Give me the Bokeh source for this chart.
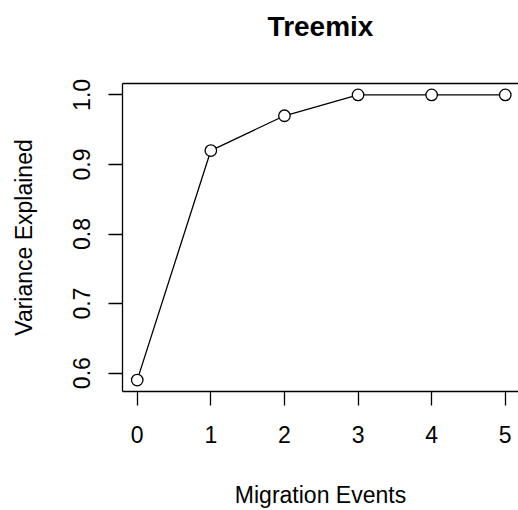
from bokeh.plotting import figure
from bokeh.models import LinearAxis, FixedTicker, Range1d, Title, NumeralTickFormatter
from bokeh.embed import file_html
from bokeh.resources import INLINE

migration_events = [0, 1, 2, 3, 4, 5]
variance_explained = [0.59, 0.92, 0.97, 1.0, 1.0, 1.0]
x_ticks = [0, 1, 2, 3, 4, 5]
y_ticks = [0.6, 0.7, 0.8, 0.9, 1.0]
title_text = "Treemix"

FONT = "Liberation Sans"

xr = Range1d(-0.2, 5.18)
yr = Range1d(0.5736, 1.0164)
p = figure(width=518, height=510, output_backend="svg", toolbar_location=None,
           x_range=xr, y_range=yr,
           min_border_left=122, min_border_right=0, min_border_top=0, min_border_bottom=116,
           x_axis_location=None, y_axis_location=None)
p.outline_line_color = None
p.xgrid.visible = False
p.ygrid.visible = False
p.background_fill_color = "white"
p.border_fill_color = "white"

xa = LinearAxis(ticker=FixedTicker(ticks=x_ticks), axis_label="Migration Events")
ya = LinearAxis(ticker=FixedTicker(ticks=y_ticks), axis_label="Variance Explained",
                formatter=NumeralTickFormatter(format="0.0"))
for ax in (xa, ya):
    ax.axis_line_color = "black"
    ax.axis_line_width = 1.3
    ax.major_tick_line_color = "black"
    ax.major_tick_line_width = 1.3
    ax.major_tick_out = 14
    ax.major_tick_in = 0
    ax.minor_tick_line_color = None
    ax.major_label_text_font = FONT
    ax.major_label_text_font_size = "23px"
    ax.major_label_text_color = "black"
    ax.axis_label_text_font = FONT
    ax.axis_label_text_font_size = "23px"
    ax.axis_label_text_font_style = "normal"
    ax.axis_label_text_color = "black"
xa.major_label_standoff = 20
xa.axis_label_standoff = 36
ya.major_label_orientation = "vertical"
ya.major_label_standoff = 18
ya.axis_label_standoff = 34
p.add_layout(xa, "below")
p.add_layout(ya, "left")

top = LinearAxis(ticker=FixedTicker(ticks=[]))
top.axis_line_color = "black"
top.axis_line_width = 1.3
top.major_tick_line_color = None
top.minor_tick_line_color = None
top.major_label_text_font_size = "0px"
p.add_layout(top, "above")

p.title = Title(text=title_text, align="center", vertical_align="top", text_font=FONT,
                text_font_size="28px", text_font_style="bold", text_color="black", standoff=20)
spacer = Title(text=" ", text_font_size="25px", standoff=0)
p.add_layout(spacer, "above")

p.line(migration_events, variance_explained, line_color="black", line_width=1.3)
p.scatter(migration_events, variance_explained, marker="circle", size=11.5,
          fill_color="white", line_color="black", line_width=1.3)

open("out.html", "w").write(file_html(p, INLINE))
